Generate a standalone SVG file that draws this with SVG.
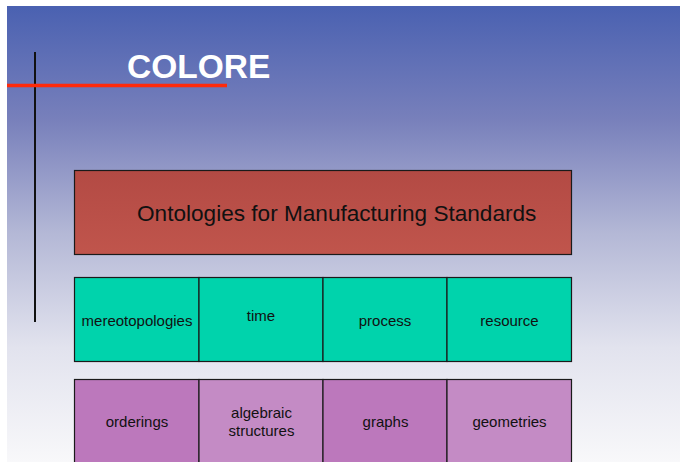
<svg xmlns="http://www.w3.org/2000/svg" width="680" height="462" viewBox="0 0 680 462">
  <defs>
    <linearGradient id="bg" x1="0" y1="0" x2="0" y2="1">
      <stop offset="0" stop-color="#4a61b1"/>
      <stop offset="0.25" stop-color="#7880bb"/>
      <stop offset="0.5" stop-color="#b4b8d6"/>
      <stop offset="0.75" stop-color="#e2e3ee"/>
      <stop offset="1" stop-color="#f8f8fa"/>
    </linearGradient>
    <linearGradient id="red" x1="0" y1="0" x2="0" y2="1">
      <stop offset="0" stop-color="#b34a44"/>
      <stop offset="1" stop-color="#c0554c"/>
    </linearGradient>
    <style>
      .cell { stroke: #1a1a1a; stroke-width: 1.2; }
      .teal { fill: #00d3ac; }
      .pA { fill: #bc78bc; }
      .pB { fill: #c48bc5; }
      .lbl { font-family: "Liberation Sans", Arial, sans-serif; font-size: 15px; fill: #111; text-anchor: middle; }
    </style>
  </defs>

  <!-- slide background -->
  <rect x="0" y="0" width="680" height="462" fill="#ffffff"/>
  <rect x="7" y="6" width="673" height="456" fill="url(#bg)"/>

  <!-- title rules -->
  <line x1="35" y1="52" x2="35" y2="322" stroke="#111" stroke-width="2"/>
  <line x1="7" y1="85.5" x2="227" y2="85.5" stroke="#ff2a0a" stroke-width="3.5"/>

  <text x="127" y="78" font-family="Liberation Sans, Arial, sans-serif" font-size="33.5" font-weight="bold" fill="#ffffff">COLORE</text>

  <g id="manufacturing">
    <rect class="cell" x="74.5" y="170.5" width="497" height="84" fill="url(#red)"/>
    <text x="137" y="221" font-family="Liberation Sans, Arial, sans-serif" font-size="22.6" fill="#111">Ontologies for Manufacturing Standards</text>
  </g>

  <g id="mereotopologies">
    <rect class="cell teal" x="74.5" y="277.5" width="124.5" height="84"/>
    <text class="lbl" x="137" y="326">mereotopologies</text>
  </g>
  <g id="time">
    <rect class="cell teal" x="199" y="277.5" width="124" height="84"/>
    <text class="lbl" x="261" y="321">time</text>
  </g>
  <g id="process">
    <rect class="cell teal" x="323" y="277.5" width="124" height="84"/>
    <text class="lbl" x="385" y="326">process</text>
  </g>
  <g id="resource">
    <rect class="cell teal" x="447" y="277.5" width="124.5" height="84"/>
    <text class="lbl" x="509.5" y="326">resource</text>
  </g>

  <g id="orderings">
    <rect class="cell pA" x="74.5" y="379.5" width="124.5" height="90"/>
    <text class="lbl" x="137" y="427">orderings</text>
  </g>
  <g id="algebraic-structures">
    <rect class="cell pB" x="199" y="379.5" width="124" height="90"/>
    <text class="lbl" x="261.5" y="418">algebraic</text>
    <text class="lbl" x="261.5" y="436">structures</text>
  </g>
  <g id="graphs">
    <rect class="cell pA" x="323" y="379.5" width="124" height="90"/>
    <text class="lbl" x="385.5" y="427">graphs</text>
  </g>
  <g id="geometries">
    <rect class="cell pB" x="447" y="379.5" width="124.5" height="90"/>
    <text class="lbl" x="509.5" y="427">geometries</text>
  </g>
</svg>
